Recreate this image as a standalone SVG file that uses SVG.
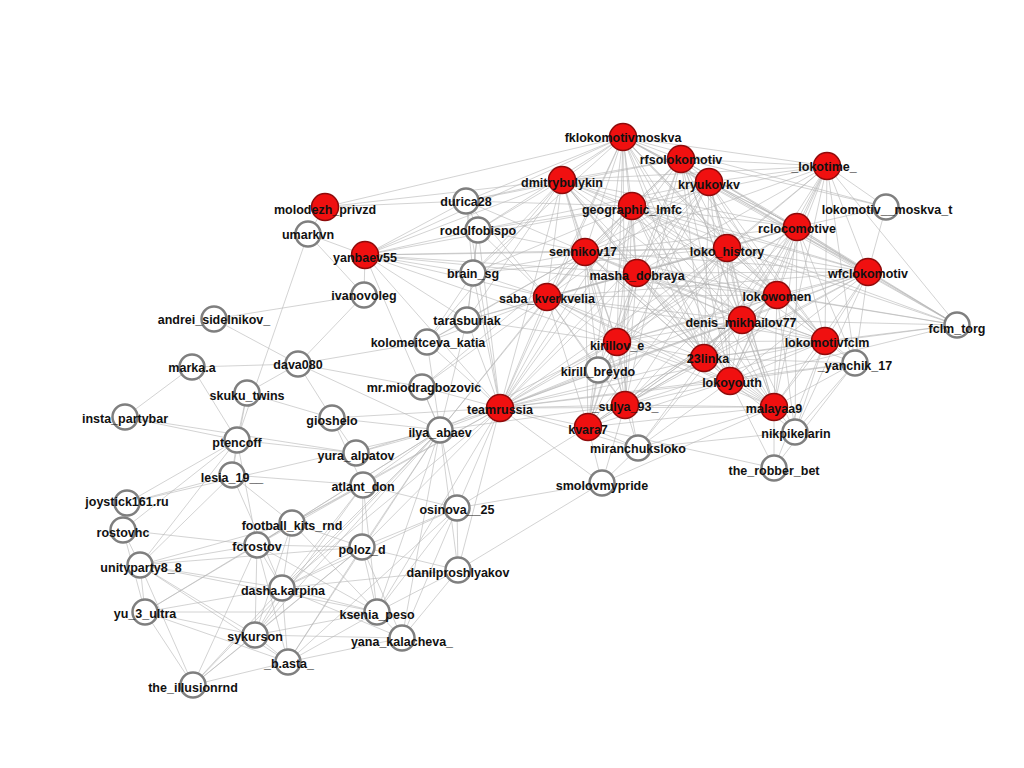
<svg xmlns="http://www.w3.org/2000/svg" width="1024" height="768" viewBox="0 0 1024 768">
<style>
.e{stroke:#b4b4b4;stroke-width:0.7;fill:none;stroke-opacity:0.85}
.r circle{fill:#f01010;stroke:#8e0b0b;stroke-width:1.5}
.w circle{fill:#fff;stroke:#7f7f7f;stroke-width:2.5}
text{font-family:"Liberation Sans",Arial,sans-serif;font-weight:bold;font-size:12.5px;text-anchor:middle;fill:#111}
</style>
<rect width="1024" height="768" fill="#fff"/>
<g id="edges" class="e">
<path d="M623 137L681 159M623 137L709 182M623 137L827 166M623 137L632 206M623 137L797 227M623 137L585 252M623 137L727 248M623 137L637 273M623 137L868 272M623 137L777 295M623 137L562 180M623 137L547 297M623 137L742 320M623 137L825 341M623 137L617 342M623 137L704 358M623 137L730 381M623 137L500 408M623 137L625 405M623 137L588 427M623 137L774 407M623 137L466 201M623 137L478 230M623 137L473 273M623 137L886 207M623 137L957 325M623 137L365 255M623 137L325 207"/>
<path d="M681 159L709 182M681 159L827 166M681 159L632 206M681 159L797 227M681 159L585 252M681 159L727 248M681 159L637 273M681 159L868 272M681 159L777 295M681 159L562 180M681 159L547 297M681 159L742 320M681 159L825 341M681 159L617 342M681 159L704 358M681 159L730 381M681 159L500 408M681 159L625 405M681 159L774 407M681 159L466 201M681 159L957 325M681 159L886 207"/>
<path d="M709 182L827 166M709 182L632 206M709 182L797 227M709 182L585 252M709 182L727 248M709 182L637 273M709 182L868 272M709 182L777 295M709 182L562 180M709 182L547 297M709 182L742 320M709 182L825 341M709 182L617 342M709 182L704 358M709 182L730 381M709 182L500 408M709 182L588 427M709 182L774 407M709 182L478 230M709 182L957 325"/>
<path d="M827 166L632 206M827 166L797 227M827 166L727 248M827 166L637 273M827 166L868 272M827 166L777 295M827 166L742 320M827 166L825 341M827 166L704 358M827 166L730 381M827 166L774 407M827 166L886 207M827 166L957 325M827 166L585 252M827 166L562 180M827 166L617 342M827 166L855 363"/>
<path d="M632 206L797 227M632 206L585 252M632 206L727 248M632 206L637 273M632 206L868 272M632 206L777 295M632 206L562 180M632 206L547 297M632 206L742 320M632 206L825 341M632 206L617 342M632 206L704 358M632 206L730 381M632 206L500 408M632 206L625 405M632 206L588 427M632 206L774 407M632 206L466 201M632 206L478 230M632 206L473 273M632 206L365 255M632 206L957 325"/>
<path d="M797 227L585 252M797 227L727 248M797 227L637 273M797 227L868 272M797 227L777 295M797 227L562 180M797 227L547 297M797 227L742 320M797 227L825 341M797 227L617 342M797 227L704 358M797 227L730 381M797 227L500 408M797 227L625 405M797 227L774 407M797 227L886 207M797 227L957 325M797 227L855 363M797 227L795 432"/>
<path d="M585 252L727 248M585 252L637 273M585 252L868 272M585 252L777 295M585 252L562 180M585 252L547 297M585 252L742 320M585 252L825 341M585 252L617 342M585 252L704 358M585 252L730 381M585 252L500 408M585 252L625 405M585 252L588 427M585 252L774 407M585 252L466 201M585 252L478 230M585 252L473 273M585 252L365 255M585 252L467 320M585 252L427 342M585 252L422 387M585 252L440 430M585 252L598 370"/>
<path d="M727 248L637 273M727 248L868 272M727 248L777 295M727 248L562 180M727 248L547 297M727 248L742 320M727 248L825 341M727 248L617 342M727 248L704 358M727 248L730 381M727 248L500 408M727 248L625 405M727 248L588 427M727 248L774 407M727 248L957 325M727 248L365 255M727 248L473 273M727 248L598 370"/>
<path d="M637 273L868 272M637 273L777 295M637 273L562 180M637 273L547 297M637 273L742 320M637 273L825 341M637 273L617 342M637 273L704 358M637 273L730 381M637 273L500 408M637 273L625 405M637 273L588 427M637 273L774 407M637 273L365 255M637 273L467 320M637 273L598 370M637 273L957 325"/>
<path d="M868 272L777 295M868 272L562 180M868 272L547 297M868 272L742 320M868 272L825 341M868 272L617 342M868 272L704 358M868 272L730 381M868 272L500 408M868 272L625 405M868 272L774 407M868 272L886 207M868 272L957 325M868 272L855 363M868 272L795 432"/>
<path d="M777 295L562 180M777 295L547 297M777 295L742 320M777 295L825 341M777 295L617 342M777 295L704 358M777 295L730 381M777 295L500 408M777 295L625 405M777 295L588 427M777 295L774 407M777 295L957 325M777 295L855 363M777 295L795 432M777 295L365 255"/>
<path d="M562 180L547 297M562 180L742 320M562 180L617 342M562 180L704 358M562 180L730 381M562 180L500 408M562 180L625 405M562 180L774 407M562 180L466 201M562 180L478 230M562 180L473 273M562 180L365 255M562 180L325 207M562 180L467 320M562 180L427 342"/>
<path d="M547 297L742 320M547 297L825 341M547 297L617 342M547 297L704 358M547 297L730 381M547 297L500 408M547 297L625 405M547 297L588 427M547 297L774 407M547 297L365 255M547 297L473 273M547 297L467 320M547 297L427 342M547 297L422 387M547 297L440 430M547 297L598 370M547 297L466 201M547 297L478 230"/>
<path d="M742 320L825 341M742 320L617 342M742 320L704 358M742 320L730 381M742 320L500 408M742 320L625 405M742 320L588 427M742 320L774 407M742 320L957 325M742 320L855 363M742 320L795 432M742 320L598 370M742 320L638 448"/>
<path d="M825 341L617 342M825 341L704 358M825 341L730 381M825 341L500 408M825 341L625 405M825 341L774 407M825 341L957 325M825 341L855 363M825 341L795 432M825 341L774 468"/>
<path d="M617 342L704 358M617 342L730 381M617 342L500 408M617 342L625 405M617 342L588 427M617 342L774 407M617 342L598 370M617 342L365 255M617 342L467 320M617 342L638 448M617 342L440 430"/>
<path d="M704 358L730 381M704 358L500 408M704 358L625 405M704 358L588 427M704 358L774 407M704 358L957 325M704 358L855 363M704 358L638 448"/>
<path d="M730 381L500 408M730 381L625 405M730 381L588 427M730 381L774 407M730 381L795 432M730 381L774 468M730 381L638 448M730 381L957 325M730 381L855 363"/>
<path d="M500 408L625 405M500 408L588 427M500 408L774 407M500 408L365 255M500 408L466 201M500 408L478 230M500 408L473 273M500 408L467 320M500 408L427 342M500 408L422 387M500 408L440 430M500 408L457 508M500 408L362 547M500 408L363 485M500 408L356 453M500 408L332 418M500 408L458 570M500 408L377 612M500 408L598 370M500 408L638 448M500 408L602 483M500 408L282 588M500 408L292 523M500 408L855 363"/>
<path d="M625 405L588 427M625 405L774 407M625 405L638 448M625 405L602 483M625 405L598 370M625 405L440 430M588 427L774 407M588 427L638 448M588 427L602 483M588 427L598 370M588 427L457 508M588 427L774 468M774 407L795 432M774 407L774 468M774 407L855 363M774 407L638 448M774 407L602 483"/>
<path d="M365 255L466 201M365 255L478 230M365 255L473 273M365 255L364 295M365 255L467 320M365 255L308 234M365 255L440 430M325 207L466 201M325 207L308 234M308 234L364 295M308 234L237 440M466 201L478 230M466 201L473 273M478 230L473 273M478 230L467 320M473 273L467 320M473 273L427 342M467 320L427 342M467 320L440 430M427 342L440 430M427 342L298 364"/>
<path d="M298 364L214 319M298 364L192 367M298 364L364 295M298 364L332 418M298 364L440 430M298 364L422 387M298 364L247 393M214 319L364 295M192 367L125 417M192 367L237 440M247 393L237 440M247 393L332 418M247 393L232 475M125 417L237 440M125 417L356 453M332 418L440 430M332 418L356 453M332 418L363 485"/>
<path d="M440 430L356 453M440 430L363 485M440 430L457 508M440 430L362 547M440 430L292 523M440 430L282 588M440 430L255 635M440 430L377 612M440 430L458 570M440 430L257 545M440 430L288 662M440 430L193 685M440 430L402 638M440 430L422 387"/>
<path d="M237 440L356 453M237 440L232 475M237 440L127 503M237 440L257 545M237 440L123 530M237 440L140 565M232 475L127 503M232 475L292 523M232 475L282 588M232 475L140 565M232 475L363 485M363 485L362 547M363 485L292 523M363 485L282 588M363 485L255 635M363 485L377 612M363 485L457 508M363 485L257 545"/>
<path d="M457 508L458 570M457 508L362 547M457 508L377 612M457 508L282 588M457 508L402 638M457 508L288 662M457 508L602 483M292 523L257 545M292 523L362 547M292 523L282 588M292 523L255 635M292 523L377 612M292 523L140 565M292 523L145 612"/>
<path d="M257 545L362 547M257 545L282 588M257 545L140 565M257 545L255 635M257 545L288 662M257 545L377 612M257 545L145 612M257 545L123 530M257 545L193 685M362 547L282 588M362 547L377 612M362 547L402 638M362 547L288 662M362 547L255 635M362 547L458 570M362 547L193 685M362 547L140 565"/>
<path d="M140 565L145 612M140 565L282 588M140 565L377 612M140 565L255 635M140 565L193 685M140 565L123 530M140 565L288 662M458 570L377 612M458 570L402 638M458 570L282 588M458 570L602 483M282 588L377 612M282 588L255 635M282 588L288 662M282 588L193 685M282 588L145 612M282 588L402 638"/>
<path d="M145 612L255 635M145 612L193 685M145 612L377 612M145 612L288 662M145 612L123 530M377 612L402 638M377 612L255 635M377 612L288 662M255 635L288 662M255 635L193 685M255 635L402 638M288 662L193 685M288 662L402 638M127 503L123 530M127 503L440 430M638 448L602 483M638 448L795 432M855 363L795 432M855 363L774 468"/>
</g>
<g id="nodes">
<g id="n-durica28" class="w"><circle cx="466" cy="201" r="12.5"/><text x="466" y="206">durica28</text></g>
<g id="n-umarkvn" class="w"><circle cx="308" cy="234" r="12.5"/><text x="308" y="239">umarkvn</text></g>
<g id="n-rodolfobispo" class="w"><circle cx="478" cy="230" r="12.5"/><text x="478" y="235">rodolfobispo</text></g>
<g id="n-brain_sg" class="w"><circle cx="473" cy="273" r="12.5"/><text x="473" y="278">brain_sg</text></g>
<g id="n-ivanovoleg" class="w"><circle cx="364" cy="295" r="12.5"/><text x="364" y="300">ivanovoleg</text></g>
<g id="n-tarasburlak" class="w"><circle cx="467" cy="320" r="12.5"/><text x="467" y="325">tarasburlak</text></g>
<g id="n-andrei_sidelnikov_" class="w"><circle cx="214" cy="319" r="12.5"/><text x="214" y="324">andrei_sidelnikov_</text></g>
<g id="n-kolomeitceva_katia" class="w"><circle cx="427" cy="342" r="12.5"/><text x="428" y="347">kolomeitceva_katia</text></g>
<g id="n-marka.a" class="w"><circle cx="192" cy="367" r="12.5"/><text x="192" y="372">marka.a</text></g>
<g id="n-dava080" class="w"><circle cx="298" cy="364" r="12.5"/><text x="298" y="369">dava080</text></g>
<g id="n-mr.miodragbozovic" class="w"><circle cx="422" cy="387" r="12.5"/><text x="424" y="392">mr.miodragbozovic</text></g>
<g id="n-skuku_twins" class="w"><circle cx="247" cy="393" r="12.5"/><text x="247" y="400">skuku_twins</text></g>
<g id="n-insta_partybar" class="w"><circle cx="125" cy="417" r="12.5"/><text x="125" y="423">insta_partybar</text></g>
<g id="n-gioshelo" class="w"><circle cx="332" cy="418" r="12.5"/><text x="332" y="425">gioshelo</text></g>
<g id="n-ilya_abaev" class="w"><circle cx="440" cy="430" r="12.5"/><text x="440" y="437">ilya_abaev</text></g>
<g id="n-ptencoff" class="w"><circle cx="237" cy="440" r="12.5"/><text x="237" y="447">ptencoff</text></g>
<g id="n-yura_alpatov" class="w"><circle cx="356" cy="453" r="12.5"/><text x="356" y="460">yura_alpatov</text></g>
<g id="n-lesia_19__" class="w"><circle cx="232" cy="475" r="12.5"/><text x="232" y="482">lesia_19__</text></g>
<g id="n-atlant_don" class="w"><circle cx="363" cy="485" r="12.5"/><text x="363" y="491">atlant_don</text></g>
<g id="n-joystick161.ru" class="w"><circle cx="127" cy="503" r="12.5"/><text x="127" y="506">joystick161.ru</text></g>
<g id="n-osinova__25" class="w"><circle cx="457" cy="508" r="12.5"/><text x="457" y="514">osinova__25</text></g>
<g id="n-rostovhc" class="w"><circle cx="123" cy="530" r="12.5"/><text x="123" y="537">rostovhc</text></g>
<g id="n-football_kits_rnd" class="w"><circle cx="292" cy="523" r="12.5"/><text x="292" y="530">football_kits_rnd</text></g>
<g id="n-fcrostov" class="w"><circle cx="257" cy="545" r="12.5"/><text x="257" y="551">fcrostov</text></g>
<g id="n-poloz_d" class="w"><circle cx="362" cy="547" r="12.5"/><text x="362" y="554">poloz_d</text></g>
<g id="n-unityparty8_8" class="w"><circle cx="140" cy="565" r="12.5"/><text x="141" y="572">unityparty8_8</text></g>
<g id="n-danilproshlyakov" class="w"><circle cx="458" cy="570" r="12.5"/><text x="458" y="577">danilproshlyakov</text></g>
<g id="n-dasha.karpina" class="w"><circle cx="282" cy="588" r="12.5"/><text x="283" y="595">dasha.karpina</text></g>
<g id="n-yu_3_ultra" class="w"><circle cx="145" cy="612" r="12.5"/><text x="145" y="618">yu_3_ultra</text></g>
<g id="n-ksenia_peso" class="w"><circle cx="377" cy="612" r="12.5"/><text x="377" y="619">ksenia_peso</text></g>
<g id="n-sykurson" class="w"><circle cx="255" cy="635" r="12.5"/><text x="255" y="641">sykurson</text></g>
<g id="n-yana_kalacheva_" class="w"><circle cx="402" cy="638" r="12.5"/><text x="402" y="646">yana_kalacheva_</text></g>
<g id="n-_b.asta_" class="w"><circle cx="288" cy="662" r="12.5"/><text x="289" y="668">_b.asta_</text></g>
<g id="n-the_illusionrnd" class="w"><circle cx="193" cy="685" r="12.5"/><text x="193" y="692">the_illusionrnd</text></g>
<g id="n-kirill_breydo" class="w"><circle cx="598" cy="370" r="12.5"/><text x="598" y="376">kirill_breydo</text></g>
<g id="n-miranchuksloko" class="w"><circle cx="638" cy="448" r="12.5"/><text x="638" y="453">miranchuksloko</text></g>
<g id="n-smolovmypride" class="w"><circle cx="602" cy="483" r="12.5"/><text x="602" y="490">smolovmypride</text></g>
<g id="n-nikpikelarin" class="w"><circle cx="795" cy="432" r="12.5"/><text x="796" y="438">nikpikelarin</text></g>
<g id="n-the_robber_bet" class="w"><circle cx="774" cy="468" r="12.5"/><text x="774" y="475">the_robber_bet</text></g>
<g id="n-fclm_torg" class="w"><circle cx="957" cy="325" r="12.5"/><text x="957" y="333">fclm_torg</text></g>
<g id="n-_yanchik_17" class="w"><circle cx="855" cy="363" r="12.5"/><text x="855" y="370">_yanchik_17</text></g>
<g id="n-lokomotiv__moskva_t" class="w"><circle cx="886" cy="207" r="12.5"/><text x="887" y="214">lokomotiv__moskva_t</text></g>
<g id="n-fklokomotivmoskva" class="r"><circle cx="623" cy="137" r="13.5"/><text x="623" y="142">fklokomotivmoskva</text></g>
<g id="n-rfsolokomotiv" class="r"><circle cx="681" cy="159" r="13.5"/><text x="681" y="164">rfsolokomotiv</text></g>
<g id="n-kryukovkv" class="r"><circle cx="709" cy="182" r="13.5"/><text x="709" y="189">kryukovkv</text></g>
<g id="n-_lokotime_" class="r"><circle cx="827" cy="166" r="13.5"/><text x="824" y="171">_lokotime_</text></g>
<g id="n-geographic_lmfc" class="r"><circle cx="632" cy="206" r="13.5"/><text x="632" y="214">geographic_lmfc</text></g>
<g id="n-rclocomotive" class="r"><circle cx="797" cy="227" r="13.5"/><text x="797" y="233">rclocomotive</text></g>
<g id="n-sennikov17" class="r"><circle cx="585" cy="252" r="13.5"/><text x="583" y="256">sennikov17</text></g>
<g id="n-loko_history" class="r"><circle cx="727" cy="248" r="13.5"/><text x="727" y="256">loko_history</text></g>
<g id="n-masha_dobraya" class="r"><circle cx="637" cy="273" r="13.5"/><text x="637" y="280">masha_dobraya</text></g>
<g id="n-wfclokomotiv" class="r"><circle cx="868" cy="272" r="13.5"/><text x="868" y="278">wfclokomotiv</text></g>
<g id="n-lokowomen" class="r"><circle cx="777" cy="295" r="13.5"/><text x="777" y="301">lokowomen</text></g>
<g id="n-dmitrybulykin" class="r"><circle cx="562" cy="180" r="13.5"/><text x="562" y="187">dmitrybulykin</text></g>
<g id="n-molodezh_privzd" class="r"><circle cx="325" cy="207" r="13.5"/><text x="325" y="214">molodezh_privzd</text></g>
<g id="n-yanbaev55" class="r"><circle cx="365" cy="255" r="13.5"/><text x="365" y="262">yanbaev55</text></g>
<g id="n-saba_kverkvelia" class="r"><circle cx="547" cy="297" r="13.5"/><text x="547" y="303">saba_kverkvelia</text></g>
<g id="n-denis_mikhailov77" class="r"><circle cx="742" cy="320" r="13.5"/><text x="741" y="327">denis_mikhailov77</text></g>
<g id="n-lokomotivfclm" class="r"><circle cx="825" cy="341" r="13.5"/><text x="827" y="347">lokomotivfclm</text></g>
<g id="n-kirillov_e" class="r"><circle cx="617" cy="342" r="13.5"/><text x="617" y="350">kirillov_e</text></g>
<g id="n-23linka" class="r"><circle cx="704" cy="358" r="13.5"/><text x="708" y="363">23linka</text></g>
<g id="n-lokoyouth" class="r"><circle cx="730" cy="381" r="13.5"/><text x="732" y="387">lokoyouth</text></g>
<g id="n-teamrussia" class="r"><circle cx="500" cy="408" r="13.5"/><text x="500" y="414">teamrussia</text></g>
<g id="n-kvara7" class="r"><circle cx="588" cy="427" r="13.5"/><text x="588" y="434">kvara7</text></g>
<g id="n-_sulya_93_" class="r"><circle cx="625" cy="405" r="13.5"/><text x="625" y="411">_sulya_93_</text></g>
<g id="n-malayaa9" class="r"><circle cx="774" cy="407" r="13.5"/><text x="774" y="413">malayaa9</text></g>
</g>
</svg>
